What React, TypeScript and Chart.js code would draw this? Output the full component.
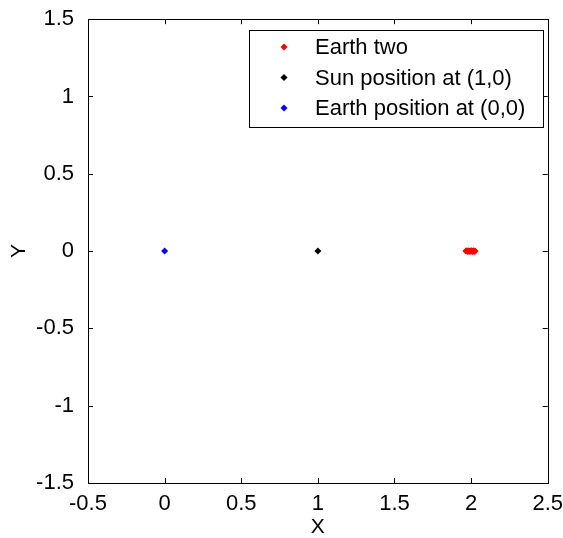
import React, { useEffect, useRef } from "react";
import { Chart, registerables } from "chart.js";

Chart.register(...registerables);

const seriesNames = ["Earth two", "Sun position at (1,0)", "Earth position at (0,0)"];
const seriesColors = ["#ff0000", "#000000", "#0000ff"];

const earthTwoX = [1.966, 1.972, 1.979, 1.985, 1.991, 1.997, 2.003, 2.009, 2.015, 2.021, 2.026];
const earthTwoY = [0, 0.002, -0.002, 0.003, -0.003, 0, 0.003, -0.003, 0.002, -0.002, 0];
const sunX = [1];
const sunY = [0];
const earthX = [0];
const earthY = [0];

const xTicks = [-0.5, 0, 0.5, 1, 1.5, 2, 2.5];
const yTicks = [-1.5, -1, -0.5, 0, 0.5, 1, 1.5];

const FONT = "'Liberation Sans', Arial, Helvetica, sans-serif";

const frame = {
  id: "frame",
  afterDatasetsDraw(chart: any) {
    const { ctx, chartArea } = chart;
    const { left, right, top, bottom } = chartArea;
    const xs = chart.scales.x;
    const ys = chart.scales.y;
    ctx.save();
    ctx.strokeStyle = "#000";
    ctx.lineWidth = 1;
    ctx.beginPath();
    const L = 5;
    xTicks.forEach((v) => {
      const p = Math.round(xs.getPixelForValue(v)) + 0.5;
      ctx.moveTo(p, bottom);
      ctx.lineTo(p, bottom - L);
      ctx.moveTo(p, top);
      ctx.lineTo(p, top + L);
    });
    yTicks.forEach((v) => {
      const p = Math.round(ys.getPixelForValue(v)) + 0.5;
      ctx.moveTo(left, p);
      ctx.lineTo(left + L, p);
      ctx.moveTo(right, p);
      ctx.lineTo(right - L, p);
    });
    ctx.stroke();
    ctx.strokeRect(Math.round(left) + 0.5, Math.round(top) + 0.5, Math.round(right - left), Math.round(bottom - top));

    // legend
    const bx = 249, by = 30, bw = 294, bh = 97;
    ctx.fillStyle = "#fff";
    ctx.fillRect(bx, by, bw, bh);
    ctx.strokeRect(bx + 0.5, by + 0.5, bw, bh);
    ctx.font = "22px " + FONT;
    ctx.textBaseline = "middle";
    ctx.textAlign = "left";
    seriesNames.forEach((name, i) => {
      const cy = by + 17 + i * 30.5;
      const mx = 284;
      ctx.fillStyle = seriesColors[i];
      ctx.beginPath();
      ctx.moveTo(mx, cy - 3.5);
      ctx.lineTo(mx + 3.5, cy);
      ctx.lineTo(mx, cy + 3.5);
      ctx.lineTo(mx - 3.5, cy);
      ctx.closePath();
      ctx.fill();
      ctx.fillStyle = "#000";
      ctx.fillText(name, 315, cy + 1);
    });
    ctx.restore();
  },
};

function toPts(xs: number[], ys: number[]) {
  return xs.map((x, i) => ({ x, y: ys[i] }));
}

export default function App() {
  const ref = useRef<HTMLCanvasElement | null>(null);
  useEffect(() => {
    if (!ref.current) return;
    const mk = (i: number, data: any[]) => ({
      label: seriesNames[i],
      data,
      showLine: false,
      pointStyle: "rectRot",
      pointRadius: 3.5,
      pointHoverRadius: 3.5,
      pointBackgroundColor: seriesColors[i],
      pointBorderColor: seriesColors[i],
      pointBorderWidth: 0,
      backgroundColor: seriesColors[i],
      borderColor: seriesColors[i],
    });
    const fmt = (v: any) => String(v);
    const chart = new Chart(ref.current, {
      type: "scatter",
      data: {
        datasets: [
          mk(0, toPts(earthTwoX, earthTwoY)),
          mk(1, toPts(sunX, sunY)),
          mk(2, toPts(earthX, earthY)),
        ],
      },
      options: {
        responsive: false,
        animation: false,
        devicePixelRatio: 1,
        layout: { padding: { top: 18, right: 15, left: 0, bottom: 0 } },
        plugins: { legend: { display: false }, tooltip: { enabled: false } },
        scales: {
          x: {
            type: "linear",
            min: -0.5,
            max: 2.5,
            afterFit: (s: any) => { s.height = 55; },
            afterBuildTicks: (s: any) => { s.ticks = xTicks.map((v) => ({ value: v })); },
            ticks: { color: "#000", font: { family: FONT, size: 22 }, padding: 0, maxRotation: 0, callback: fmt },
            grid: { display: false },
            border: { display: true, color: "#000" },
            title: { display: true, text: "X", color: "#000", font: { family: FONT, size: 21, lineHeight: 1 }, padding: { top: 0, bottom: 0 } },
          },
          y: {
            type: "linear",
            min: -1.5,
            max: 1.5,
            afterFit: (s: any) => { s.width = 88; },
            afterBuildTicks: (s: any) => { s.ticks = yTicks.map((v) => ({ value: v })); },
            ticks: { color: "#000", font: { family: FONT, size: 22 }, padding: 6, callback: fmt },
            grid: { display: false },
            border: { display: true, color: "#000" },
            title: { display: true, text: "Y", color: "#000", font: { family: FONT, size: 21, lineHeight: 1 }, padding: { top: 9, bottom: 0 } },
          },
        },
      },
      plugins: [frame],
    } as any);
    return () => chart.destroy();
  }, []);
  return (
    <div style={{ position: "absolute", left: 0, top: 0, width: 563, height: 538, background: "#fff" }}>
      <canvas ref={ref} width={563} height={538} style={{ display: "block" }} />
    </div>
  );
}
